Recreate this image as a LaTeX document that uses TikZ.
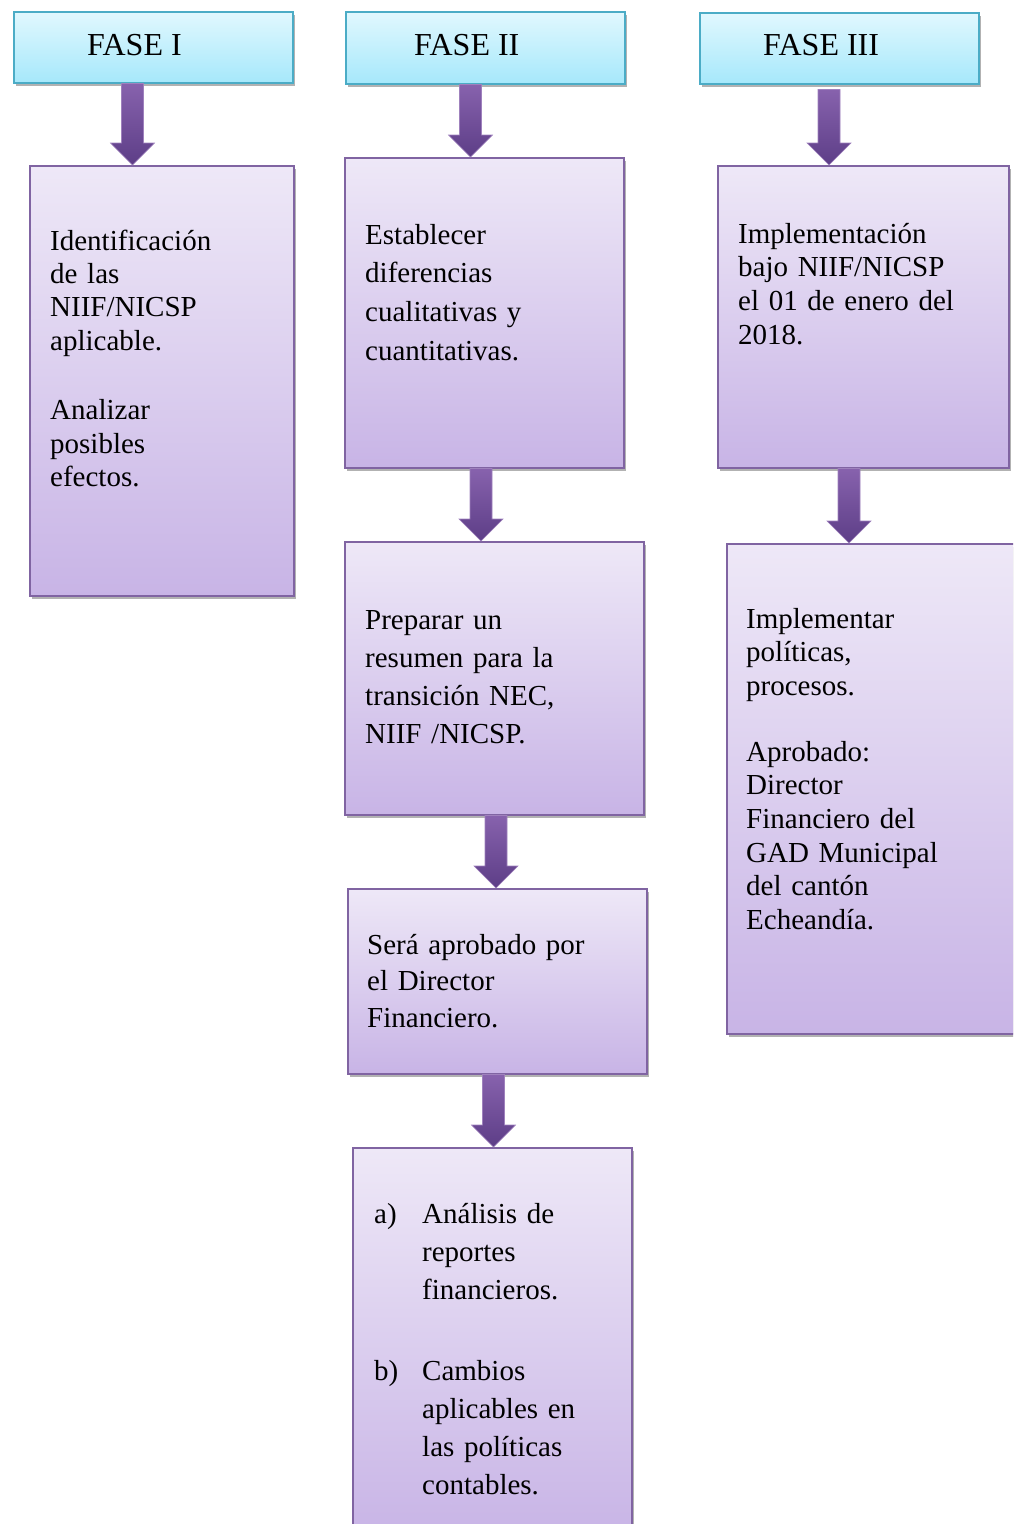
\documentclass[tikz,border=0pt]{standalone}
\usepackage{fontspec}
\setmainfont{Liberation Serif}
\usetikzlibrary{calc,shadows}
\definecolor{hdtop}{HTML}{E1F8FE}
\definecolor{hdbot}{HTML}{A6E8FB}
\definecolor{hdline}{HTML}{4BACC6}
\definecolor{bxtop}{HTML}{EEE8F7}
\definecolor{bxbot}{HTML}{C8B4E6}
\definecolor{bxline}{HTML}{8064A2}
\definecolor{artop}{HTML}{8762AD}
\definecolor{arbot}{HTML}{5D3E87}
\tikzset{
  hdbox/.style={draw=hdline, line width=1.5pt, top color=hdtop, bottom color=hdbot,
    anchor=north west, inner sep=0pt,
    drop shadow={shadow xshift=2pt, shadow yshift=-3pt, opacity=0.3, fill=black}},
  purplebox/.style={draw=bxline, line width=1.5pt, top color=bxtop, bottom color=bxbot,
    anchor=north west, inner sep=0pt,
    drop shadow={shadow xshift=2pt, shadow yshift=-3pt, opacity=0.3, fill=black}},
  hdtext/.style={anchor=base west, inner sep=0pt, font=\fontsize{32}{36}\selectfont},
  bodytext/.style={anchor=base west, inner sep=0pt, align=left, text width=#1},
  arrowshade/.style={top color=artop, bottom color=arbot, draw=artop!80!white, line width=0.6pt},
}
\newcommand\blockarrow[4]{%
  \shade[arrowshade] let \p1=(#2.south), \p2=(#3.north) in
    ({#1pt-11pt},{\y1-#4pt}) -- ({#1pt+11pt},{\y1-#4pt}) -- ({#1pt+11pt},{\y2+22pt})
    -- ({#1pt+22pt},{\y2+22pt}) -- ({#1pt},{\y2}) -- ({#1pt-22pt},{\y2+22pt})
    -- ({#1pt-11pt},{\y2+22pt}) -- cycle;}
\begin{document}
\begin{tikzpicture}[x=1pt,y=-1pt]
\useasboundingbox (0,0) rectangle (1013,1524);
\clip (0,0) rectangle (1013,1524);
% headers
\node[hdbox, minimum width=279pt, minimum height=71pt] (h1) at (13,11) {};
\node[hdbox, minimum width=279pt, minimum height=72pt] (h2) at (345,11) {};
\node[hdbox, minimum width=279pt, minimum height=71pt] (h3) at (699,12) {};
\node[hdtext] (t1) at (87,55) {FASE I};
\node[hdtext] (t2) at (414,55) {FASE II};
\node[hdtext] (t3) at (763,55) {FASE III};
% boxes
\node[purplebox, minimum width=264pt, minimum height=430pt] (b1) at (29,165) {};
\node[purplebox, minimum width=279pt, minimum height=310pt] (b2) at (344,157) {};
\node[purplebox, minimum width=299pt, minimum height=273pt] (b3) at (344,541) {};
\node[purplebox, minimum width=299pt, minimum height=185pt] (b4) at (347,888) {};
\node[purplebox, minimum width=279pt, minimum height=390pt] (b5) at (352,1147) {};
\node[purplebox, minimum width=291pt, minimum height=302pt] (c1) at (717,165) {};
\node[purplebox, minimum width=300pt, minimum height=490pt] (c2) at (726,543) {};
% texts
\node[bodytext=240pt, font=\fontsize{29}{33.4}\selectfont] (x1) at (50,250)
  {Identificación\\de las\\NIIF/NICSP\\aplicable.\\[36pt]Analizar\\posibles\\efectos.};
\node[bodytext=255pt, font=\fontsize{29}{38.7}\selectfont] (x2) at (365,244)
  {Establecer\\diferencias\\cualitativas y\\cuantitativas.};
\node[bodytext=275pt, font=\fontsize{29}{38}\selectfont] (x3) at (365,629)
  {Preparar un\\resumen para la\\transición NEC,\\NIIF /NICSP.};
\node[bodytext=275pt, font=\fontsize{29}{36.5}\selectfont] (x4) at (367,954)
  {Será aprobado por\\el Director\\Financiero.};
\node[hdtext, font=\fontsize{29}{38}\selectfont] (la) at (374,1223) {a)};
\node[bodytext=200pt, font=\fontsize{29}{38}\selectfont] (xa) at (422,1223)
  {Análisis de\\reportes\\financieros.};
\node[hdtext, font=\fontsize{29}{38}\selectfont] (lb) at (374,1380) {b)};
\node[bodytext=200pt, font=\fontsize{29}{38}\selectfont] (xb) at (422,1380)
  {Cambios\\aplicables en\\las políticas\\contables.};
\node[bodytext=265pt, font=\fontsize{29}{33.7}\selectfont] (y1) at (738,243)
  {Implementación\\bajo NIIF/NICSP\\el 01 de enero del\\2018.};
\node[bodytext=265pt, font=\fontsize{29}{33.7}\selectfont] (y2) at (746,628)
  {Implementar\\políticas,\\procesos.\\[32pt]Aprobado:\\Director\\Financiero del\\GAD Municipal\\del cantón\\Echeandía.};
% arrows
\blockarrow{132.5}{h1}{b1}{0}
\blockarrow{470.5}{h2}{b2}{0}
\blockarrow{829}{h3}{c1}{5}
\blockarrow{481}{b2}{b3}{0}
\blockarrow{849}{c1}{c2}{0}
\blockarrow{496}{b3}{b4}{0}
\blockarrow{493.5}{b4}{b5}{0}
\end{tikzpicture}
\end{document}
